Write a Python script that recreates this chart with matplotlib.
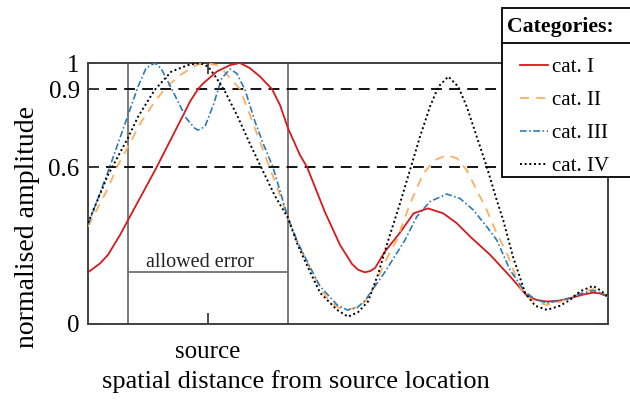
import matplotlib
matplotlib.use("Agg")
import matplotlib.pyplot as plt
from matplotlib.patches import Rectangle
from matplotlib.lines import Line2D

plt.rcParams['font.family'] = ['Liberation Serif', 'DejaVu Serif']

# distance from source, in units of half the allowed-error width (source at 0)
x_cat1 = [-1.5, -1.35, -1.25, -1.1, -1.0, -0.83, -0.65, -0.48, -0.31, -0.225, -0.125, -0.06,
          0.11, 0.275, 0.4, 0.525, 0.65, 0.8, 0.9, 1.0, 1.15, 1.24, 1.46, 1.65, 1.8, 1.875,
          1.96, 2.03, 2.09, 2.21, 2.4, 2.57, 2.75, 2.94, 3.11, 3.28, 3.53, 3.78, 3.99, 4.11,
          4.24, 4.4, 4.53, 4.68, 4.81, 4.9, 5.0]
y_cat1 = [0.198, 0.232, 0.265, 0.341, 0.398, 0.494, 0.596, 0.698, 0.8, 0.852, 0.9, 0.922,
          0.967, 0.992, 1.0, 0.98, 0.948, 0.9, 0.839, 0.75, 0.647, 0.6, 0.43, 0.303, 0.23,
          0.208, 0.198, 0.203, 0.215, 0.277, 0.35, 0.424, 0.443, 0.424, 0.386, 0.334, 0.264,
          0.181, 0.107, 0.092, 0.086, 0.09, 0.099, 0.112, 0.12, 0.117, 0.105]

x_cat2 = [-1.5, -1.25, -1.146, -1.0, -0.834, -0.666, -0.541, -0.375, -0.25, -0.125, -0.013,
          0.109, 0.188, 0.316, 0.4, 0.525, 0.65, 0.775, 0.9, 1.0, 1.125, 1.275, 1.4, 1.525,
          1.65, 1.75, 1.863, 1.963, 2.088, 2.213, 2.359, 2.525, 2.691, 2.838, 2.984, 3.109,
          3.234, 3.359, 3.484, 3.609, 3.738, 3.838, 3.938, 4.088, 4.238, 4.4, 4.525, 4.675,
          4.813, 4.9, 5.0]
y_cat2 = [0.373, 0.52, 0.596, 0.68, 0.775, 0.852, 0.9, 0.948, 0.973, 0.995, 1.0, 0.992,
          0.973, 0.928, 0.9, 0.8, 0.698, 0.596, 0.494, 0.406, 0.31, 0.215, 0.14, 0.084,
          0.06, 0.054, 0.065, 0.085, 0.15, 0.238, 0.322, 0.46, 0.577, 0.628, 0.647, 0.635,
          0.59, 0.513, 0.437, 0.347, 0.27, 0.19, 0.118, 0.085, 0.073, 0.085, 0.1, 0.122,
          0.134, 0.125, 0.105]

x_cat3 = [-1.5, -1.25, -1.0, -0.875, -0.775, -0.666, -0.588, -0.479, -0.375, -0.271, -0.166,
          -0.125, -0.038, 0.066, 0.171, 0.275, 0.359, 0.463, 0.588, 0.691, 0.813, 0.9, 1.0,
          1.125, 1.275, 1.4, 1.613, 1.738, 1.863, 1.963, 2.213, 2.463, 2.609, 2.775, 2.984,
          3.15, 3.316, 3.484, 3.609, 3.775, 3.963, 4.088, 4.238, 4.4, 4.525, 4.675, 4.813,
          4.9, 5.0]
y_cat3 = [0.38, 0.583, 0.8, 0.909, 0.98, 1.0, 0.98, 0.916, 0.852, 0.788, 0.75, 0.743, 0.756,
          0.839, 0.941, 0.977, 0.96, 0.897, 0.775, 0.69, 0.6, 0.51, 0.406, 0.31, 0.218,
          0.145, 0.073, 0.054, 0.062, 0.09, 0.2, 0.322, 0.411, 0.469, 0.498, 0.481, 0.437,
          0.373, 0.322, 0.207, 0.123, 0.095, 0.08, 0.09, 0.1, 0.118, 0.128, 0.12, 0.105]

x_cat4 = [-1.5, -1.25, -1.0, -0.875, -0.666, -0.459, -0.25, -0.1, 0.004, 0.109, 0.213,
          0.363, 0.525, 0.688, 0.838, 1.0, 1.125, 1.275, 1.4, 1.613, 1.75, 1.875, 2.0,
          2.125, 2.254, 2.4, 2.525, 2.65, 2.775, 2.879, 3.004, 3.129, 3.234, 3.359, 3.484,
          3.609, 3.688, 3.813, 3.963, 4.088, 4.238, 4.4, 4.525, 4.65, 4.813, 4.9, 5.0]
y_cat4 = [0.387, 0.571, 0.713, 0.794, 0.897, 0.967, 0.992, 1.0, 0.986, 0.941, 0.89, 0.8,
          0.69, 0.585, 0.49, 0.406, 0.3, 0.2, 0.12, 0.054, 0.028, 0.045, 0.086, 0.19, 0.322,
          0.462, 0.59, 0.718, 0.833, 0.909, 0.948, 0.909, 0.833, 0.718, 0.603, 0.475, 0.4,
          0.257, 0.12, 0.07, 0.054, 0.07, 0.092, 0.125, 0.146, 0.13, 0.105]

labels = ['cat. I', 'cat. II', 'cat. III', 'cat. IV']
colors = ['#d7191c', '#fdae61', '#2c7bb6', 'black']
thresholds = [0.9, 0.6]
yticks = [0, 0.6, 0.9, 1]
err_lo, err_hi, err_level = -1.0, 1.0, 0.2

fig = plt.figure(figsize=(6.3, 4.01), dpi=100)
ax = fig.add_axes([88/630, 1-324/401, 520/630, 261/401])

ax.axvline(err_lo, color='#6e6e6e', lw=1.3, zorder=1)
ax.axvline(err_hi, color='#6e6e6e', lw=1.3, zorder=1)
ax.plot([err_lo, err_hi], [err_level, err_level], color='#6e6e6e', lw=1.3, zorder=1)
ax.text(-0.1, err_level+0.037, 'allowed error', ha='center', va='center',
        fontsize=14.5, color='#222222')
for t in thresholds:
    ax.axhline(t, color='black', lw=1.3, dashes=(6, 4), zorder=1)

l1, = ax.plot(x_cat1, y_cat1, color=colors[0], lw=1.3, zorder=3)
l2, = ax.plot(x_cat2, y_cat2, color=colors[1], lw=1.3, dashes=(5, 4), zorder=3)
l3, = ax.plot(x_cat3, y_cat3, color=colors[2], lw=1.2, dashes=(4, 1.5, 1, 1.5), zorder=3)
l4, = ax.plot(x_cat4, y_cat4, color=colors[3], lw=1.4, dashes=(1, 1.4), zorder=3)

ax.set_xlim(-1.5, 5.0)
ax.set_ylim(0, 1)
ax.set_xticks([0])
ax.set_xticklabels(['source'])
ax.set_yticks(yticks)
ax.set_yticklabels(['0', '0.6', '0.9', '1'])
ax.tick_params(direction='in', length=8, width=1.3, color='#404040', labelsize=18,
               top=True, right=True, pad=6)
ax.tick_params(axis='x', pad=12)
for s in ax.spines.values():
    s.set_color('#404040')
    s.set_linewidth(1.4)
ax.set_xlabel('spatial distance from source location', fontsize=19, va='center')
ax.xaxis.set_label_coords(0.4, -0.222)
ax.set_ylabel('normalised amplitude', fontsize=20, va='center')
ax.yaxis.set_label_coords(-0.117, 0.372)

# legend box with title separator
fig.add_artist(Rectangle((502/630, 1-177/401), 140/630, 169/401, transform=fig.transFigure,
                         facecolor='white', edgecolor='black', lw=1.3, clip_on=False))
fig.add_artist(Line2D([502/630, 1.0], [1-43/401, 1-43/401], transform=fig.transFigure,
                      color='black', lw=1.3))
fig.text(507/630, 1-27/401, 'Categories:', fontsize=15.7, fontweight='bold', va='center')
fig.legend([l1, l2, l3, l4], labels, loc='upper left', bbox_to_anchor=(520/630, 1-57.5/401),
           frameon=False, fontsize=15, handlelength=1.35, handletextpad=0.2,
           labelspacing=0.65, borderpad=0, borderaxespad=0)

fig.savefig('out.png', dpi=100)
